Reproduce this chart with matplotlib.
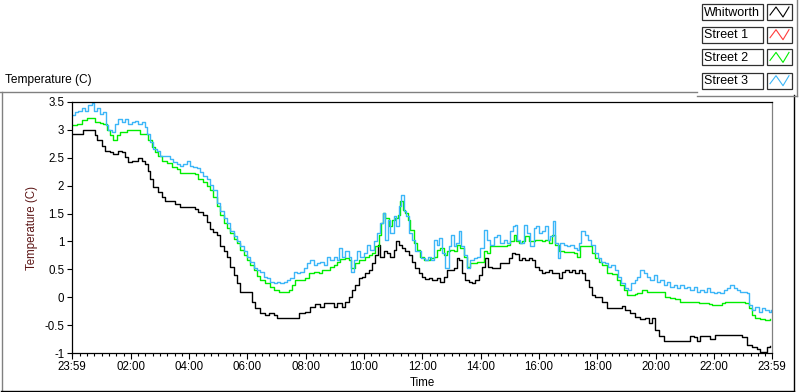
import matplotlib
matplotlib.use('Agg')
import matplotlib.pyplot as plt
from matplotlib.patches import Rectangle
from matplotlib.lines import Line2D

plt.rcParams['font.family'] = ['Liberation Sans', 'DejaVu Sans']
plt.rcParams['font.size'] = 8.3

# time in hours after 23:59, temperature in C
whit_t = [0.00, 0.27, 0.38, 0.55, 0.68, 0.79, 0.85, 1.02, 1.13, 1.30, 1.42, 1.59, 1.70, 1.82, 1.93,
          2.05, 2.16, 2.27, 2.39, 2.50, 2.62, 2.67, 2.79, 2.96, 3.08, 3.19, 3.36, 3.53, 3.70, 3.87,
          4.05, 4.22, 4.33, 4.50, 4.62, 4.73, 4.84, 4.97, 5.08, 5.20, 5.31, 5.43, 5.54, 5.66, 5.77,
          5.94, 6.11, 6.17, 6.28, 6.46, 6.63, 6.74, 6.92, 7.03, 7.20, 7.37, 7.54, 7.66, 7.77, 8.00,
          8.17, 8.34, 8.51, 8.63, 8.80, 8.97, 9.09, 9.26, 9.37, 9.49, 9.60, 9.71, 9.83, 9.94, 10.06,
          10.17, 10.29, 10.40, 10.49, 10.57, 10.69, 10.80, 10.91, 11.03, 11.12, 11.20, 11.31, 11.43,
          11.54, 11.66, 11.77, 11.89, 12.00, 12.11, 12.23, 12.34, 12.51, 12.63, 12.74, 12.86, 12.97,
          13.09, 13.20, 13.28, 13.37, 13.48, 13.60, 13.71, 13.83, 13.94, 14.06, 14.15, 14.26, 14.40,
          14.57, 14.68, 14.86, 14.97, 15.09, 15.20, 15.32, 15.43, 15.54, 15.66, 15.77, 15.88, 16.00,
          16.11, 16.23, 16.34, 16.46, 16.57, 16.69, 16.80, 16.91, 17.03, 17.14, 17.26, 17.37, 17.49,
          17.60, 17.72, 17.83, 17.94, 18.06, 18.17, 18.34, 18.51, 18.69, 18.86, 18.97, 19.14, 19.31,
          19.48, 19.66, 19.77, 19.89, 20.00, 20.12, 20.29, 20.57, 20.86, 21.09, 21.20, 21.32, 21.43,
          21.54, 21.71, 21.88, 22.06, 22.29, 22.51, 22.74, 22.97, 23.14, 23.31, 23.49, 23.60, 23.71,
          23.83, 23.94]
whit_v = [2.92, 2.92, 2.99, 3.00, 2.99, 2.90, 2.81, 2.72, 2.63, 2.60, 2.57, 2.63, 2.60, 2.51, 2.42,
          2.44, 2.45, 2.49, 2.44, 2.39, 2.27, 2.12, 1.97, 1.88, 1.79, 1.72, 1.73, 1.68, 1.61, 1.61,
          1.61, 1.59, 1.52, 1.48, 1.34, 1.22, 1.17, 1.12, 0.91, 0.82, 0.73, 0.55, 0.40, 0.25, 0.10,
          0.10, 0.10, -0.08, -0.20, -0.29, -0.32, -0.29, -0.32, -0.38, -0.38, -0.38, -0.38, -0.38, -0.29, -0.26,
          -0.17, -0.12, -0.17, -0.10, -0.11, -0.17, -0.11, -0.17, -0.08, 0.01, 0.13, 0.22, 0.34, 0.37, 0.43,
          0.49, 0.61, 0.76, 0.94, 0.73, 0.82, 0.79, 0.73, 0.85, 1.00, 0.94, 0.88, 0.82,
          0.76, 0.64, 0.52, 0.43, 0.37, 0.33, 0.34, 0.31, 0.34, 0.28, 0.37, 0.49, 0.49,
          0.52, 0.70, 0.67, 0.43, 0.31, 0.28, 0.25, 0.31, 0.40, 0.55, 0.70, 0.55, 0.53,
          0.52, 0.61, 0.61, 0.70, 0.80, 0.77, 0.67, 0.70, 0.67, 0.70, 0.67, 0.55, 0.49,
          0.43, 0.46, 0.49, 0.43, 0.43, 0.34, 0.46, 0.49, 0.46, 0.49, 0.43, 0.49, 0.43,
          0.31, 0.19, 0.04, 0.01, 0.01, -0.08, -0.20, -0.20, -0.20, -0.15, -0.23, -0.29, -0.35,
          -0.39, -0.38, -0.47, -0.38, -0.59, -0.69, -0.78, -0.78, -0.78, -0.78, -0.69, -0.71, -0.78,
          -0.69, -0.69, -0.75, -0.68, -0.68, -0.68, -0.68, -0.71, -0.86, -0.89, -0.93, -0.98, -0.98,
          -0.89, -0.88]

street1_t = []
street1_v = []

street2_t = [0.00, 0.16, 0.33, 0.50, 0.68, 0.79, 0.96, 1.07, 1.19, 1.30, 1.42, 1.53, 1.65, 1.76, 1.88,
             1.99, 2.10, 2.22, 2.33, 2.50, 2.62, 2.73, 2.85, 2.96, 3.08, 3.25, 3.42, 3.59, 3.70, 3.87,
             4.05, 4.22, 4.33, 4.50, 4.62, 4.73, 4.85, 4.97, 5.08, 5.20, 5.31, 5.43, 5.54, 5.66, 5.77,
             5.89, 6.00, 6.11, 6.23, 6.34, 6.46, 6.63, 6.80, 6.92, 7.09, 7.26, 7.43, 7.54, 7.66, 7.83,
             8.00, 8.12, 8.29, 8.46, 8.57, 8.74, 8.86, 8.97, 9.09, 9.20, 9.37, 9.49, 9.58, 9.71, 9.83,
             9.94, 10.06, 10.17, 10.29, 10.40, 10.52, 10.60, 10.66, 10.74, 10.86, 10.97, 11.08, 11.18,
             11.26, 11.34, 11.43, 11.52, 11.60, 11.72, 11.83, 11.94, 12.06, 12.17, 12.28, 12.40, 12.51,
             12.63, 12.74, 12.86, 12.97, 13.09, 13.20, 13.31, 13.43, 13.54, 13.66, 13.77, 13.89, 14.00,
             14.12, 14.23, 14.34, 14.51, 14.67, 14.74, 14.91, 15.03, 15.14, 15.22, 15.32, 15.43, 15.54,
             15.66, 15.77, 15.88, 16.00, 16.11, 16.23, 16.34, 16.46, 16.57, 16.69, 16.86, 17.03, 17.20,
             17.31, 17.43, 17.54, 17.72, 17.83, 17.94, 18.06, 18.17, 18.34, 18.51, 18.69, 18.80, 18.91,
             19.03, 19.14, 19.31, 19.37, 19.54, 19.71, 19.89, 20.06, 20.23, 20.34, 20.51, 20.69, 20.86,
             21.03, 21.20, 21.37, 21.49, 21.66, 21.83, 21.94, 22.11, 22.29, 22.40, 22.63, 22.86, 23.08,
             23.20, 23.31, 23.43, 23.60, 23.77, 23.94]
street2_v = [3.08, 3.11, 3.18, 3.21, 3.21, 3.14, 3.12, 3.11, 2.99, 2.90, 2.82, 2.90, 2.97, 2.96, 3.00,
             2.99, 2.99, 3.00, 2.93, 2.92, 2.81, 2.69, 2.60, 2.54, 2.44, 2.40, 2.33, 2.30, 2.22, 2.22,
             2.22, 2.21, 2.12, 2.06, 2.00, 1.92, 1.80, 1.63, 1.48, 1.33, 1.24, 1.15, 1.04, 0.97, 0.85,
             0.76, 0.67, 0.58, 0.49, 0.38, 0.31, 0.25, 0.19, 0.13, 0.10, 0.10, 0.13, 0.22, 0.31, 0.31,
             0.34, 0.43, 0.46, 0.43, 0.49, 0.49, 0.55, 0.58, 0.64, 0.69, 0.70, 0.67, 0.52, 0.61, 0.67,
             0.67, 0.73, 0.76, 0.79, 0.91, 1.12, 1.33, 1.51, 1.42, 1.27, 1.39, 1.42, 1.48,
             1.72, 1.57, 1.51, 1.39, 1.21, 0.97, 0.85, 0.73, 0.67, 0.67, 0.70, 0.73, 0.85,
             0.88, 0.76, 0.82, 0.85, 0.82, 0.94, 0.88, 0.73, 0.55, 0.61, 0.61, 0.64, 0.64,
             0.82, 0.79, 0.91, 0.92, 0.91, 0.92, 0.94, 1.00, 1.12, 1.00, 0.97, 1.00, 1.09,
             1.00, 1.00, 1.03, 1.02, 1.00, 1.03, 0.97, 1.12, 0.94, 0.82, 0.81, 0.81, 0.79,
             0.73, 0.91, 0.91, 0.91, 0.79, 0.70, 0.64, 0.58, 0.43, 0.42, 0.31, 0.22, 0.13,
             0.04, 0.04, 0.05, 0.07, 0.13, 0.10, 0.10, 0.10, 0.10, 0.01, -0.01, -0.03, -0.08,
             -0.09, -0.09, -0.09, -0.11, -0.10, -0.12, -0.14, -0.14, -0.11, -0.08, -0.08, -0.08, -0.11,
             -0.20, -0.32, -0.38, -0.39, -0.41, -0.39]

street3_t = [0.00, 0.10, 0.22, 0.33, 0.45, 0.56, 0.68, 0.75, 0.85, 0.96, 1.07, 1.17, 1.24, 1.36, 1.47,
             1.59, 1.70, 1.82, 1.93, 2.05, 2.16, 2.27, 2.39, 2.50, 2.58, 2.67, 2.79, 2.90, 3.02, 3.13,
             3.25, 3.36, 3.47, 3.59, 3.70, 3.82, 3.93, 4.05, 4.16, 4.28, 4.39, 4.50, 4.62, 4.73, 4.85,
             4.97, 5.08, 5.20, 5.31, 5.43, 5.54, 5.66, 5.77, 5.89, 6.00, 6.11, 6.23, 6.34, 6.46, 6.57,
             6.69, 6.80, 6.92, 7.03, 7.14, 7.26, 7.37, 7.49, 7.60, 7.71, 7.83, 7.94, 8.06, 8.17, 8.29,
             8.40, 8.51, 8.63, 8.74, 8.86, 8.97, 9.09, 9.16, 9.26, 9.37, 9.49, 9.58, 9.66, 9.77, 9.88,
             10.00, 10.11, 10.23, 10.34, 10.46, 10.55, 10.66, 10.74, 10.83, 10.91, 11.03, 11.12, 11.20,
             11.28, 11.37, 11.46, 11.56, 11.66, 11.75, 11.86, 11.98, 12.09, 12.21, 12.32, 12.40, 12.51,
             12.59, 12.69, 12.80, 12.92, 13.00, 13.09, 13.17, 13.26, 13.35, 13.43, 13.54, 13.66, 13.77,
             13.89, 14.00, 14.12, 14.23, 14.34, 14.46, 14.57, 14.68, 14.80, 14.91, 15.03, 15.11, 15.18,
             15.26, 15.37, 15.49, 15.60, 15.71, 15.83, 15.92, 16.00, 16.11, 16.21, 16.32, 16.40, 16.48,
             16.57, 16.65, 16.74, 16.86, 16.97, 17.08, 17.20, 17.31, 17.39, 17.46, 17.58, 17.69, 17.80,
             17.92, 18.03, 18.15, 18.26, 18.38, 18.49, 18.61, 18.72, 18.83, 18.95, 19.06, 19.18, 19.29,
             19.37, 19.48, 19.60, 19.71, 19.83, 19.94, 20.06, 20.17, 20.29, 20.40, 20.51, 20.63, 20.74,
             20.86, 20.97, 21.09, 21.20, 21.32, 21.43, 21.54, 21.66, 21.77, 21.89, 22.00, 22.11, 22.23,
             22.34, 22.46, 22.57, 22.69, 22.80, 22.91, 23.03, 23.14, 23.22, 23.31, 23.43, 23.54, 23.66,
             23.77, 23.89, 23.98]
street3_v = [3.26, 3.32, 3.33, 3.39, 3.33, 3.44, 3.48, 3.33, 3.39, 3.29, 3.32, 3.08, 2.99, 2.96, 3.11,
             3.20, 3.14, 3.20, 3.11, 3.14, 3.16, 3.11, 3.14, 3.05, 2.93, 2.78, 2.66, 2.63, 2.54, 2.53,
             2.54, 2.48, 2.42, 2.39, 2.36, 2.39, 2.44, 2.36, 2.33, 2.32, 2.24, 2.18, 2.12, 2.02, 1.92,
             1.69, 1.54, 1.42, 1.33, 1.18, 1.09, 1.00, 0.91, 0.82, 0.73, 0.64, 0.52, 0.49, 0.46, 0.37,
             0.34, 0.28, 0.25, 0.28, 0.25, 0.28, 0.31, 0.34, 0.46, 0.43, 0.46, 0.52, 0.61, 0.67, 0.58,
             0.61, 0.64, 0.58, 0.73, 0.67, 0.73, 0.67, 0.88, 0.73, 0.82, 0.73, 0.46, 0.67, 0.82, 0.73,
             0.79, 0.94, 0.85, 1.00, 1.15, 1.33, 1.51, 1.03, 1.39, 1.15, 1.45, 1.27, 1.63,
             1.84, 1.54, 1.45, 1.15, 1.03, 0.82, 0.82, 0.70, 0.67, 0.73, 0.67, 1.03, 0.94,
             1.06, 0.79, 0.52, 0.91, 1.12, 0.91, 0.97, 1.18, 0.91, 0.76, 0.52, 0.67, 0.70,
             0.73, 0.88, 1.21, 1.03, 0.94, 1.08, 1.12, 0.97, 1.03, 0.97, 1.18, 1.27, 1.30,
             1.03, 0.97, 1.30, 1.15, 0.91, 1.24, 1.27, 1.15, 1.18, 1.27, 1.03, 1.09, 1.36,
             0.97, 0.70, 0.97, 0.94, 0.91, 0.94, 0.88, 0.85, 0.97, 1.18, 1.12, 1.03, 0.94,
             0.79, 0.70, 0.64, 0.61, 0.55, 0.58, 0.49, 0.37, 0.25, 0.16, 0.13, 0.25, 0.31,
             0.37, 0.49, 0.43, 0.37, 0.31, 0.40, 0.28, 0.31, 0.22, 0.28, 0.19, 0.22, 0.16,
             0.22, 0.16, 0.19, 0.13, 0.19, 0.10, 0.13, 0.10, 0.16, 0.10, 0.07, 0.10, 0.07,
             0.13, 0.16, 0.22, 0.16, 0.13, 0.10, 0.10, 0.07, -0.14, -0.23, -0.17, -0.26, -0.20,
             -0.23, -0.26, -0.23]

names = ['Whitworth', 'Street 1', 'Street 2', 'Street 3']
colors = ['#000000', '#ff3c3c', '#00ee00', '#3cb6f8']

x_tick_labels = ['23:59', '02:00', '04:00', '06:00', '08:00', '10:00', '12:00',
                 '14:00', '16:00', '18:00', '20:00', '22:00', '23:59']
y_ticks = [-1, -0.5, 0, 0.5, 1, 1.5, 2, 2.5, 3, 3.5]
y_tick_labels = ['-1', '-0.5', '0', '0.5', '1', '1.5', '2', '2.5', '3', '3.5']

W, H = 800, 392
fig = plt.figure(figsize=(W / 100, H / 100), dpi=100)
fig.patch.set_facecolor('white')

ax = fig.add_axes([72 / W, 1 - 353 / H, 700 / W, 251 / H])

series = [(whit_t, whit_v), (street1_t, street1_v), (street2_t, street2_v), (street3_t, street3_v)]
for (t, v), c in zip(series, colors):
    ax.plot(t, v, color=c, lw=1.0, drawstyle='steps-post')

ax.set_xlim(0, 24)
ax.set_ylim(-1, 3.5)

# ticks at clock times, measured from 23:59
start = 23 * 60 + 59
xpos = []
for i, lab in enumerate(x_tick_labels):
    hh, mm = lab.split(':')
    m = (int(hh) * 60 + int(mm) - start) % 1440
    if i == len(x_tick_labels) - 1:
        m = 1440
    xpos.append(m / 60)
ax.set_xticks(xpos)
ax.set_xticklabels(x_tick_labels)
minor = [((q * 15 - start) % 1440) / 60 for q in range(96)]
ax.set_xticks(minor, minor=True)
ax.set_yticks(y_ticks)
ax.set_yticklabels(y_tick_labels)

ax.tick_params(axis='x', which='major', length=4.5, width=0.8, pad=1.5, direction='out')
ax.tick_params(axis='x', which='minor', length=2.2, width=0.8, direction='out')
ax.tick_params(axis='y', length=3.6, width=0.8, pad=2, direction='out')

for s in ['left', 'bottom', 'top']:
    ax.spines[s].set_color('black')
    ax.spines[s].set_linewidth(0.9)
ax.spines['right'].set_color('#808080')
ax.spines['right'].set_linewidth(0.9)

ax.set_ylabel('Temperature (C)', color='#5c1515', va='center')
ax.yaxis.set_label_coords((32 - 72) / 700, 0.5)
ax.set_xlabel('Time', va='center')
ax.xaxis.set_label_coords(0.5, -(383 - 353) / 251)

# outer frame of the chart panel
def px(x, y):
    return x / W, 1 - y / H

def line(p0, p1, color):
    (x0, y0), (x1, y1) = px(*p0), px(*p1)
    fig.add_artist(Line2D([x0, x1], [y0, y1], color=color, lw=1.0, transform=fig.transFigure))

line((0, 92), (697, 92), '#808080')
line((1.5, 92), (1.5, 391), '#808080')
line((1, 390.5), (794, 390.5), 'black')
line((793.5, 95), (793.5, 391), 'black')
line((697, 95.5), (797, 95.5), '#808080')
line((796.5, 0), (796.5, 96), '#808080')

fig.text(5 / W, 1 - 80 / H, 'Temperature (C)', ha='left', va='center', fontsize=8.6)

# legend boxes
row_top = [4, 26.7, 49.4, 72.7]
for i, (nm, c) in enumerate(zip(names, colors)):
    y0 = row_top[i]
    fig.add_artist(Rectangle(px(702, y0 + 16), 61 / W, 16 / H, transform=fig.transFigure,
                             facecolor='white', edgecolor='#303030', lw=0.9))
    fig.text(704 / W, 1 - (y0 + 8.5) / H, nm, ha='left', va='center', fontsize=9)
    fig.add_artist(Rectangle(px(767, y0 + 16), 25 / W, 16 / H, transform=fig.transFigure,
                             facecolor='white', edgecolor='#303030', lw=0.9))
    zx = [770, 776, 783, 789]
    zy = [y0 + 11, y0 + 3, y0 + 13, y0 + 3]
    fig.add_artist(Line2D([a / W for a in zx], [1 - b / H for b in zy], color=c, lw=0.8,
                          transform=fig.transFigure))

fig.savefig('out.png', dpi=100)
